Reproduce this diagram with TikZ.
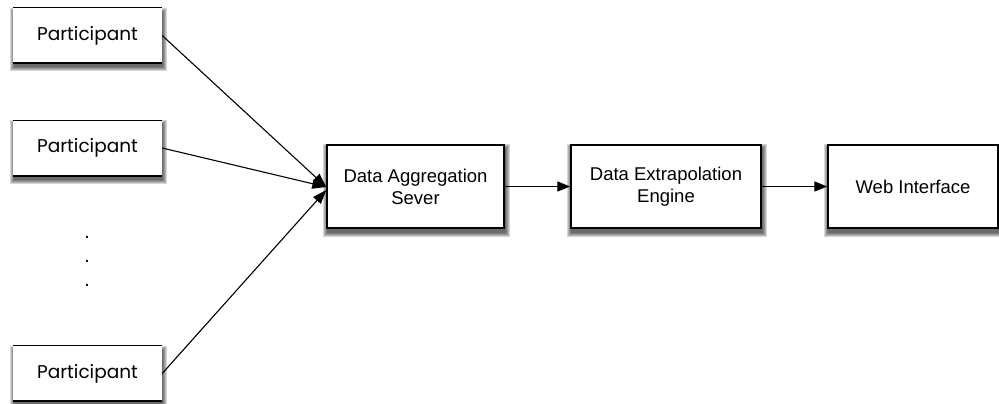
\documentclass[tikz,border=0pt]{standalone}
\usepackage{fontspec}
\setmainfont{Liberation Sans}
\newfontfamily\partfont{Poppins}
\usetikzlibrary{arrows.meta,backgrounds}
\tikzset{
  partbox/.style={rectangle, fill=white, minimum width=149pt, minimum height=55pt, inner sep=0pt,
    font=\partfont\fontsize{18.5}{20}\selectfont},
  mainbox/.style={rectangle, draw=black, line width=1.4pt, fill=white, minimum height=83pt, inner sep=0pt,
    align=center, font=\fontsize{18.5}{22}\selectfont},
  shadowlayer/.style={fill=black, opacity=0.16},
  edgeline/.style={line width=1.2pt, black},
  conn/.style={line width=1.3pt, -{Triangle[length=13pt,width=10pt]}},
  pconn/.style={line width=1.1pt, -{Triangle[length=14pt,width=10pt]}}
}
\begin{document}
\begin{tikzpicture}[x=1pt,y=-1pt]
\useasboundingbox (0,0) rectangle (999,404);
\node[partbox] (p1) at (87.5,35.5) {Participant};
\node[partbox] (p2) at (87.5,148) {Participant};
\node[partbox] (p3) at (87.5,373.5) {Participant};
\foreach \p in {p1,p2,p3}{
  \draw[edgeline] (\p.north west) -- (\p.north east);
  \draw[line width=1.7pt] (\p.south west) -- (\p.south east);
}
\node[font=\partfont\fontsize{19}{24}\selectfont, align=center, inner sep=0pt] (dots) at (87,261) {.\\.\\.};
\node[mainbox, minimum width=177pt] (A) at (415.5,186.5) {Data Aggregation\\Sever};
\node[mainbox, minimum width=190pt] (B) at (666,186.5) {Data Extrapolation\\Engine};
\node[mainbox, minimum width=170pt] (C) at (913,186.5) {Web Interface};
\begin{scope}[on background layer]
  \foreach \n in {p1,p2,p3,A,B,C}{
    \foreach \r in {4,3,2,1,0}{
      \fill[shadowlayer] ([xshift=1pt-\r pt, yshift=-4pt-\r pt]\n.south west) rectangle ([xshift=1pt+\r pt, yshift=-4pt+\r pt]\n.north east);
    }
  }
\end{scope}
\draw[pconn] (p1.east) -- ([yshift=-0.5pt]A.west);
\draw[pconn] (p2.east) -- ([yshift=-0.5pt]A.west);
\draw[pconn] (p3.east) -- ([yshift=-3.5pt]A.west);
\draw[conn] (A) -- (B);
\draw[conn] (B) -- (C);
\end{tikzpicture}
\end{document}
